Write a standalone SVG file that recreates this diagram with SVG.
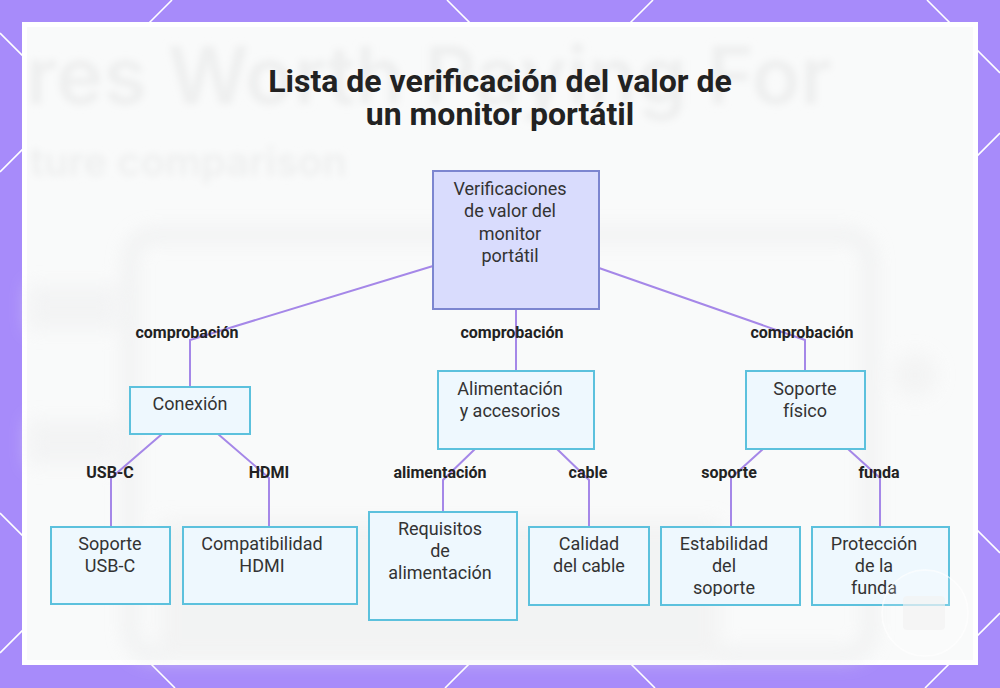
<svg xmlns="http://www.w3.org/2000/svg" width="1000" height="688" viewBox="0 0 1000 688">
  <defs>
    <style>
      .lattice { stroke: #ffffff; stroke-width: 1.6; fill: none; }
      .root rect { fill: #d9dcfd; stroke: #7c86d0; stroke-width: 2; }
      .node rect { fill: #eef8fe; stroke: #5cc1dd; stroke-width: 2; }
      .ntext { font-family: Roboto, "Liberation Sans", sans-serif; font-size: 18px; fill: #333333; text-anchor: middle; }
      .edge { stroke: #a587e8; stroke-width: 2; fill: none; }
      .elabel { font-family: Roboto, "Liberation Sans", sans-serif; font-size: 16px; font-weight: bold; fill: #222222; text-anchor: middle; }
      .title { font-family: Roboto, "Liberation Sans", sans-serif; font-size: 32px; font-weight: bold; fill: #222222; text-anchor: middle; }
      .ghost { font-family: Inter, Roboto, "Liberation Sans", sans-serif; fill: #eeefef; font-weight: 600; }
    </style>
    <filter id="blur" x="-10%" y="-30%" width="120%" height="160%">
      <feGaussianBlur stdDeviation="3.5"/>
    </filter>
    <filter id="blurBig" x="-20%" y="-20%" width="140%" height="140%">
      <feGaussianBlur stdDeviation="9"/>
    </filter>
    <clipPath id="clipLow">
      <rect x="0" y="0" width="1000" height="596"/>
    </clipPath>
  </defs>

  <!-- background -->
  <rect x="0" y="0" width="1000" height="688" fill="#a78bfa"/>
  <g class="lattice">
    <line x1="0" y1="513" x2="175" y2="688"/>
    <line x1="0" y1="33" x2="655" y2="688"/>
    <line x1="447" y1="0" x2="1000" y2="553"/>
    <line x1="927" y1="0" x2="1000" y2="73"/>
    <line x1="172" y1="0" x2="0" y2="172"/>
    <line x1="653" y1="0" x2="0" y2="653"/>
    <line x1="1000" y1="133" x2="445" y2="688"/>
    <line x1="1000" y1="613" x2="925" y2="688"/>
  </g>

  <!-- card -->
  <rect x="22" y="22" width="956" height="643" fill="#ffffff"/>
  <rect x="27" y="27" width="946" height="633" fill="#f9fafa"/>
  <g filter="url(#blurBig)" opacity="0.55">
    <rect x="130" y="235" width="740" height="420" rx="24" fill="none" stroke="#e6e7e8" stroke-width="12"/>
    <rect x="28" y="285" width="90" height="45" fill="#eeeff0"/>
    <rect x="28" y="420" width="90" height="45" fill="#eeeff0"/>
    <rect x="160" y="520" width="560" height="140" fill="#eeeeee"/>
    <circle cx="915" cy="375" r="22" fill="#efefef"/>
  </g>
  <g filter="url(#blur)">
    <text class="ghost" x="26" y="104" font-size="80">res Worth Paying For</text>
    <text class="ghost" x="30" y="176" font-size="40" font-weight="500">ture comparison</text>
  </g>

  <!-- title -->
  <g id="title">
    <text class="title" x="500" y="92">Lista de verificación del valor de</text>
    <text class="title" x="500" y="125">un monitor portátil</text>
  </g>

  <!-- connectors -->
  <g id="connectors">
    <path class="edge" d="M433,266 L190,340 L190,387"/>
    <path class="edge" d="M516,309 L516,371"/>
    <path class="edge" d="M599,268 L805,340 L805,371"/>
    <path class="edge" d="M162,434 L111,478 L111,527"/>
    <path class="edge" d="M218,434 L269,478 L269,527"/>
    <path class="edge" d="M475,449 L443,480 L443,512"/>
    <path class="edge" d="M557,449 L589,480 L589,527"/>
    <path class="edge" d="M763,449 L731,478 L731,527"/>
    <path class="edge" d="M848,449 L880,478 L880,527"/>
  </g>

  <g id="edge-labels">
    <text class="elabel" x="187" y="338">comprobación</text>
    <text class="elabel" x="512" y="338">comprobación</text>
    <text class="elabel" x="802" y="338">comprobación</text>
    <text class="elabel" x="110" y="478">USB-C</text>
    <text class="elabel" x="269" y="478">HDMI</text>
    <text class="elabel" x="440" y="478">alimentación</text>
    <text class="elabel" x="588" y="478">cable</text>
    <text class="elabel" x="729" y="478">soporte</text>
    <text class="elabel" x="879" y="478">funda</text>
  </g>

  <!-- nodes -->
  <g id="root" class="root">
    <rect x="433" y="171" width="166" height="138"/>
    <text class="ntext" x="510" y="195">Verificaciones</text>
    <text class="ntext" x="510" y="217">de valor del</text>
    <text class="ntext" x="510" y="240">monitor</text>
    <text class="ntext" x="510" y="262">portátil</text>
  </g>

  <g id="conexion" class="node">
    <rect x="130" y="387" width="120" height="47"/>
    <text class="ntext" x="190" y="410">Conexión</text>
  </g>

  <g id="alimentacion" class="node">
    <rect x="438" y="371" width="156" height="78"/>
    <text class="ntext" x="510" y="395">Alimentación</text>
    <text class="ntext" x="510" y="417">y accesorios</text>
  </g>

  <g id="soporte-fisico" class="node">
    <rect x="746" y="371" width="119" height="78"/>
    <text class="ntext" x="805" y="395">Soporte</text>
    <text class="ntext" x="805" y="417">físico</text>
  </g>

  <g id="soporte-usbc" class="node">
    <rect x="51" y="527" width="119" height="77"/>
    <text class="ntext" x="110" y="550">Soporte</text>
    <text class="ntext" x="110" y="572">USB-C</text>
  </g>

  <g id="compat-hdmi" class="node">
    <rect x="183" y="527" width="174" height="77"/>
    <text class="ntext" x="262" y="550">Compatibilidad</text>
    <text class="ntext" x="262" y="572">HDMI</text>
  </g>

  <g id="requisitos" class="node">
    <rect x="369" y="512" width="148" height="108"/>
    <text class="ntext" x="440" y="535">Requisitos</text>
    <text class="ntext" x="440" y="557">de</text>
    <text class="ntext" x="440" y="579">alimentación</text>
  </g>

  <g id="calidad-cable" class="node">
    <rect x="529" y="527" width="120" height="78"/>
    <text class="ntext" x="589" y="550">Calidad</text>
    <text class="ntext" x="589" y="572">del cable</text>
  </g>

  <g id="estabilidad" class="node">
    <rect x="661" y="527" width="139" height="78"/>
    <g clip-path="url(#clipLow)">
      <text class="ntext" x="724" y="550">Estabilidad</text>
      <text class="ntext" x="724" y="572">del</text>
      <text class="ntext" x="724" y="594">soporte</text>
    </g>
  </g>

  <g id="proteccion" class="node">
    <rect x="812" y="527" width="137" height="78"/>
    <g clip-path="url(#clipLow)">
      <text class="ntext" x="874" y="550">Protección</text>
      <text class="ntext" x="874" y="572">de la</text>
      <text class="ntext" x="874" y="594">funda</text>
    </g>
  </g>

  <!-- faint watermark circle -->
  <g opacity="0.7">
    <circle cx="925" cy="613" r="43" fill="#ffffff" fill-opacity="0.25" stroke="#ffffff" stroke-width="1.5"/>
    <rect x="903" y="596" width="42" height="34" rx="4" fill="#f4f4f4"/>
  </g>
</svg>
